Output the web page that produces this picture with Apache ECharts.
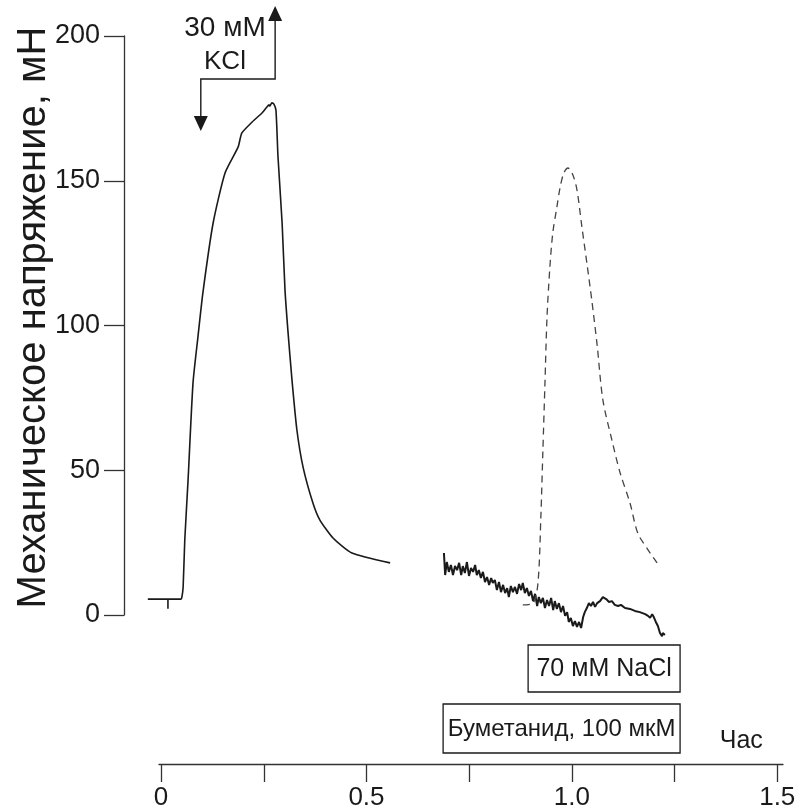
<!DOCTYPE html>
<html>
<head>
<meta charset="utf-8">
<script src="https://cdn.jsdelivr.net/npm/echarts@6/dist/echarts.min.js"></script>
<style>
  html, body { margin: 0; padding: 0; background: #fff; }
  #chart { width: 798px; height: 812px; }
</style>
</head>
<body>
<div id="chart"></div>
<script>
// Tension recording, mN, versus time, hours
// KCl-induced contraction (solid trace)
const kclTime = [-0.032, 0.049, 0.051, 0.054, 0.058, 0.066, 0.078, 0.090, 0.102, 0.127, 0.156, 0.188, 0.197, 0.222, 0.246, 0.258, 0.263, 0.265, 0.270, 0.275, 0.280, 0.285, 0.295, 0.302, 0.309, 0.319, 0.331, 0.346, 0.370, 0.387, 0.419, 0.465, 0.558];
const kclForce = [5.5, 5.5, 6.2, 9.7, 25.9, 46.6, 80.1, 96.0, 111.2, 135.4, 152.7, 161.7, 166.5, 170.3, 173.4, 175.5, 176.2, 175.8, 176.9, 176.5, 174.4, 158.2, 135.4, 112.3, 98.4, 81.2, 63.9, 51.1, 38.7, 32.8, 26.6, 21.4, 18.0];

// Short marker below the baseline
const markTime = [0.017, 0.017];
const markForce = [5.5, 2.2];

// Trace recorded under bumetanide
const bumTime = [0.689, 0.692, 0.696, 0.701, 0.706, 0.711, 0.716, 0.721, 0.726, 0.731, 0.735, 0.740, 0.745, 0.750, 0.755, 0.760, 0.765, 0.769, 0.774, 0.779, 0.784, 0.789, 0.794, 0.799, 0.804, 0.808, 0.813, 0.818, 0.823, 0.828, 0.833, 0.838, 0.843, 0.847, 0.852, 0.857, 0.862, 0.867, 0.872, 0.877, 0.881, 0.886, 0.891, 0.896, 0.901, 0.906, 0.911, 0.916, 0.920, 0.925, 0.930, 0.935, 0.940, 0.945, 0.950, 0.955, 0.959, 0.964, 0.969, 0.974, 0.979, 0.984, 0.989, 0.993, 0.998, 1.003, 1.008, 1.013, 1.018, 1.023, 1.028, 1.032, 1.037, 1.042, 1.047, 1.052, 1.057, 1.062, 1.069, 1.076, 1.084, 1.091, 1.098, 1.105, 1.113, 1.120, 1.130, 1.142, 1.154, 1.166, 1.179, 1.186, 1.191, 1.196, 1.200, 1.205, 1.210, 1.215, 1.220, 1.222, 1.227];
const bumForce = [21.4, 13.8, 18.3, 14.9, 17.3, 13.8, 16.9, 15.5, 18.0, 13.8, 16.9, 14.5, 18.3, 13.5, 16.2, 14.9, 17.3, 13.8, 15.5, 12.8, 14.9, 11.4, 13.1, 10.4, 12.8, 11.1, 12.1, 8.6, 11.4, 7.9, 10.4, 7.6, 9.3, 6.2, 10.0, 7.9, 9.7, 7.3, 10.7, 8.6, 11.1, 7.6, 9.3, 6.6, 8.3, 4.8, 7.3, 3.1, 6.2, 4.1, 5.9, 2.4, 5.2, 3.1, 5.9, 1.7, 4.8, 2.1, 4.1, 1.0, 3.1, -0.3, 1.0, -2.4, -1.0, -3.8, -2.1, -4.1, -2.4, -4.5, -0.7, 1.0, 2.4, 4.1, 3.1, 4.5, 2.8, 4.1, 4.8, 6.2, 5.5, 4.5, 4.8, 3.5, 3.1, 3.5, 2.4, 2.1, 1.4, 1.0, 0.3, -0.3, -1.0, 0.3, -0.7, -2.4, -3.8, -6.2, -7.3, -6.2, -6.9];

// NaCl-induced contraction (dashed trace)
const naclTime = [0.881, 0.906, 0.918, 0.925, 0.930, 0.935, 0.940, 0.947, 0.954, 0.964, 0.972, 0.981, 0.991, 1.003, 1.013, 1.025, 1.037, 1.049, 1.062, 1.076, 1.098, 1.118, 1.142, 1.161, 1.186, 1.208];
const naclForce = [3.5, 4.1, 11.1, 33.9, 57.0, 80.1, 102.9, 120.2, 131.9, 140.9, 147.8, 152.7, 154.4, 152.0, 146.8, 134.0, 121.6, 108.8, 93.3, 74.3, 60.4, 49.1, 38.7, 28.3, 22.5, 18.0];

// Axis ticks
const yTicks = [0, 50, 100, 150, 200];
const xTickValues = [0, 0.25, 0.5, 0.75, 1.0, 1.25, 1.5];
const xLabelValues = [0, 0.5, 1.0, 1.5];
const xLabelText = ['0', '0.5', '1.0', '1.5'];

// Application periods (hours)
const kclOn = 0.097, kclOff = 0.278;
const naclPeriod = [0.894, 1.264];
const bumPeriod = [0.687, 1.264];

const yTitle = 'Механическое напряжение, мН';
const xTitle = 'Час';
const kclText = ['30 мМ', 'KCl'];
const naclText = '70 мМ NaCl';
const bumText = 'Буметанид, 100 мкМ';

const FONT = '"Liberation Sans", Arial, sans-serif';
const INK = '#1a1a1a';
const AXIS = '#333';

const zip = (a, b) => a.map((v, i) => [v, b[i]]);

const chart = echarts.init(document.getElementById('chart'), null, { renderer: 'canvas' });

const option = {
  animation: false,
  backgroundColor: '#fff',
  grid: [
    { left: 124, width: 653, top: 36, bottom: 197, containLabel: false, outerBoundsMode: 'none' },
    { left: 159, width: 624, top: 763, bottom: 48, containLabel: false, outerBoundsMode: 'none' }
  ],
  xAxis: [
    { gridIndex: 0, type: 'value', min: -0.09, max: 1.5, show: false },
    {
      gridIndex: 1, type: 'value', min: -0.005, max: 1.514, position: 'bottom',
      axisLine: { show: true, onZero: false, lineStyle: { color: AXIS, width: 1.3 } },
      axisTick: { show: true, length: 18, inside: false, customValues: xTickValues, lineStyle: { color: AXIS, width: 1.3 } },
      axisLabel: {
        show: true, margin: 21, customValues: xLabelValues,
        formatter: v => xLabelText[xLabelValues.indexOf(v)] ?? '',
        fontFamily: FONT, fontSize: 26, color: INK
      },
      splitLine: { show: false }
    }
  ],
  yAxis: [
    {
      gridIndex: 0, type: 'value', min: 0, max: 200, interval: 50,
      name: yTitle, nameLocation: 'middle', nameGap: 70, nameRotate: 90, nameMoveOverlap: false,
      nameTextStyle: { fontFamily: FONT, fontSize: 40, color: INK, padding: [0, 0, 0, 16] },
      axisLine: { show: true, onZero: false, lineStyle: { color: AXIS, width: 1.3 } },
      axisTick: { show: true, length: 20, lineStyle: { color: AXIS, width: 1.3 } },
      axisLabel: { margin: 24, fontFamily: FONT, fontSize: 27, color: INK },
      splitLine: { show: false }
    },
    { gridIndex: 1, type: 'value', show: false }
  ],
  series: [
    {
      type: 'line', xAxisIndex: 0, yAxisIndex: 0, data: zip(kclTime, kclForce),
      showSymbol: false, smooth: 0.2, clip: false,
      lineStyle: { color: INK, width: 1.6 }
    },
    {
      type: 'line', xAxisIndex: 0, yAxisIndex: 0, data: zip(markTime, markForce),
      showSymbol: false, clip: false, lineStyle: { color: INK, width: 1.6 }
    },
    {
      type: 'line', xAxisIndex: 0, yAxisIndex: 0, data: zip(bumTime, bumForce),
      showSymbol: false, clip: false, lineStyle: { color: INK, width: 2 }
    },
    {
      type: 'line', xAxisIndex: 0, yAxisIndex: 0, data: zip(naclTime, naclForce),
      showSymbol: false, smooth: 0.3, clip: false,
      lineStyle: { color: '#444', width: 1.3, type: [7, 5] }
    }
  ]
};

chart.setOption(option);

// Annotations placed from time values through the data grid's scales
const px = (t, v) => chart.convertToPixel({ gridIndex: 0 }, [t, v]);
const xOn = px(kclOn, 0)[0];
const xOff = px(kclOff, 0)[0];
const yBar = 79, yUpTip = 6, yDownTip = 131;
const head = 7, headLen = 15;
const naclL = px(naclPeriod[0], 0)[0], naclR = px(naclPeriod[1], 0)[0];
const bumL = px(bumPeriod[0], 0)[0], bumR = px(bumPeriod[1], 0)[0];
const x15 = chart.convertToPixel({ xAxisIndex: 1 }, 1.5);

const lineStyle = { stroke: INK, lineWidth: 1.4, fill: null };
const boxStyle = { stroke: INK, lineWidth: 1.3, fill: '#fff' };
const textStyle = (s, x, y, size) => ({ text: s, x, y, fill: INK, font: `${size}px ${FONT}`, align: 'center', verticalAlign: 'middle' });

chart.setOption({
  graphic: [
    { type: 'polyline', shape: { points: [[xOff, yUpTip + headLen], [xOff, yBar], [xOn, yBar], [xOn, yDownTip - headLen]] }, style: lineStyle },
    { type: 'polygon', shape: { points: [[xOff - head, yUpTip + headLen], [xOff + head, yUpTip + headLen], [xOff, yUpTip]] }, style: { fill: INK } },
    { type: 'polygon', shape: { points: [[xOn - head, yDownTip - headLen], [xOn + head, yDownTip - headLen], [xOn, yDownTip]] }, style: { fill: INK } },
    { type: 'text', style: textStyle(kclText[0], (xOn + xOff) / 2 - 13, 28, 28) },
    { type: 'text', style: textStyle(kclText[1], (xOn + xOff) / 2 - 13, 62, 26) },
    { type: 'rect', shape: { x: naclL, y: 645, width: naclR - naclL, height: 47 }, style: boxStyle },
    { type: 'text', style: textStyle(naclText, (naclL + naclR) / 2, 669, 25) },
    { type: 'rect', shape: { x: bumL, y: 704, width: bumR - bumL, height: 49 }, style: boxStyle },
    { type: 'text', style: textStyle(bumText, (bumL + bumR) / 2, 729, 24) },
    { type: 'text', style: textStyle(xTitle, x15 - 36, 741, 25) }
  ]
});
</script>
</body>
</html>
